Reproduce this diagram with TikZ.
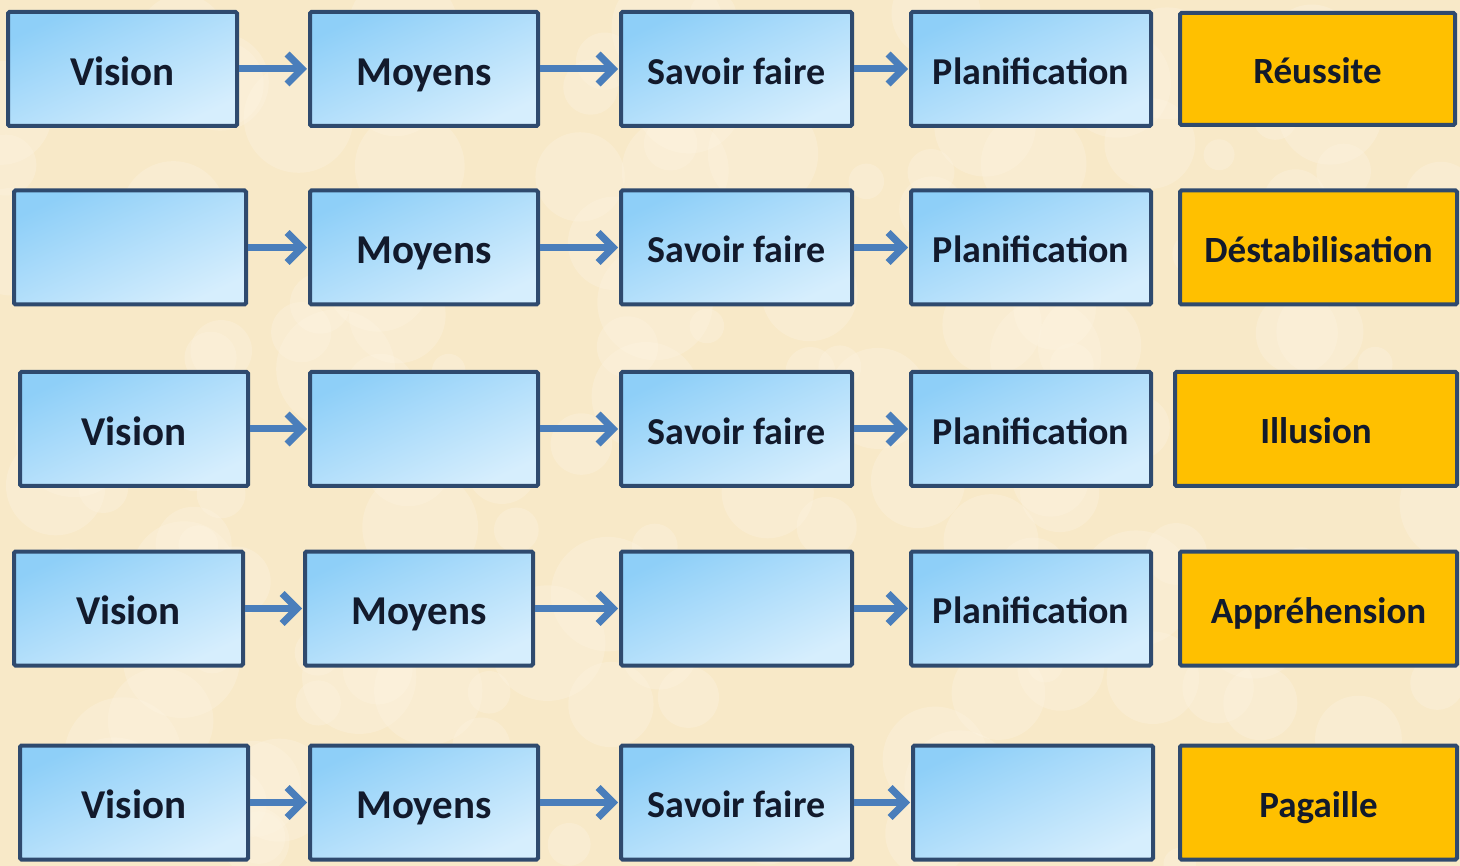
\documentclass[tikz,border=0pt]{standalone}
\usepackage{fontspec}
\setmainfont{Carlito}
\usetikzlibrary{arrows.meta}
\definecolor{bgc}{HTML}{F8E9C8}
\definecolor{bgl}{HTML}{FDF4E2}
\definecolor{bluetop}{HTML}{8ECFF8}
\definecolor{bluebot}{HTML}{D6EEFD}
\definecolor{edgec}{HTML}{2F4A6E}
\definecolor{orangec}{HTML}{FFC000}
\definecolor{arrowc}{HTML}{4A7EBB}
\definecolor{textc}{HTML}{121A2C}
\tikzset{
  bx/.style={draw=edgec, line width=4pt, rounded corners=1.5pt, inner sep=0pt,
    shading=axis, top color=bluetop, bottom color=bluebot, shading angle=25,
    minimum height=114pt, text=textc, text height=30.5pt, text depth=0pt,
    font=\bfseries\fontsize{38}{40}\selectfont},
  big/.style={font=\bfseries\fontsize{41}{44}\selectfont, text height=32.4pt},
  res/.style={draw=edgec, line width=4pt, rounded corners=1.5pt, inner sep=0pt,
    fill=orangec, minimum height=114pt, text=textc, text height=30pt, text depth=0pt,
    font=\bfseries\fontsize{37}{40}\selectfont},
  arr/.style={draw=arrowc, line width=7pt,
    -{Straight Barb[length=15pt,width=30pt,line width=7pt]}, shorten >=1pt},
}
\begin{document}
\begin{tikzpicture}[x=1pt,y=-1pt]
\useasboundingbox (0,0) rectangle (1460,866);
\begin{scope}
\clip (0,0) rectangle (1460,866);
\fill[bgc] (0,0) rectangle (1460,866);
\pgfmathsetseed{7}
\foreach \i in {1,...,160}{
  \pgfmathsetmacro{\xx}{rnd*1460}
  \pgfmathsetmacro{\yy}{rnd*866}
  \pgfmathsetmacro{\rr}{15+rnd*45}
  \fill[bgl, opacity=0.35] (\xx,\yy) circle[radius=\rr];
}
\end{scope}
% Row 1
\node[bx,big,minimum width=229pt] (v1) at (122.5,69) {Vision};
\node[bx,big,minimum width=228pt] (m1) at (424,69) {Moyens};
\node[bx,minimum width=231pt] (s1) at (736.5,69) {Savoir faire};
\node[bx,minimum width=240pt] (p1) at (1031,69) {Planification};
\node[res,minimum width=275pt,minimum height=112pt] (r1) at (1317.5,69) {Réussite};
% Row 2
\node[bx,minimum width=232pt] (e2) at (130,247.5) {};
\node[bx,big,minimum width=228pt] (m2) at (424,247.5) {Moyens};
\node[bx,minimum width=231pt] (s2) at (736.5,247.5) {Savoir faire};
\node[bx,minimum width=240pt] (p2) at (1031,247.5) {Planification};
\node[res,minimum width=277pt] (r2) at (1318.5,247.5) {Déstabilisation};
% Row 3
\node[bx,big,minimum width=228pt] (v3) at (134,429) {Vision};
\node[bx,minimum width=228pt] (e3) at (424,429) {};
\node[bx,minimum width=231pt] (s3) at (736.5,429) {Savoir faire};
\node[bx,minimum width=240pt] (p3) at (1031,429) {Planification};
\node[res,minimum width=282pt] (r3) at (1316,429) {Illusion};
% Row 4
\node[bx,big,minimum width=229pt] (v4) at (128.5,608.5) {Vision};
\node[bx,big,minimum width=228pt] (m4) at (419,608.5) {Moyens};
\node[bx,minimum width=231pt] (e4) at (736.5,608.5) {};
\node[bx,minimum width=240pt] (p4) at (1031,608.5) {Planification};
\node[res,minimum width=277pt] (r4) at (1318.5,608.5) {Appréhension};
% Row 5
\node[bx,big,minimum width=228pt] (v5) at (134,802.5) {Vision};
\node[bx,big,minimum width=228pt] (m5) at (424,802.5) {Moyens};
\node[bx,minimum width=231pt] (s5) at (736.5,802.5) {Savoir faire};
\node[bx,minimum width=240pt] (e5) at (1033,802.5) {};
\node[res,minimum width=277pt] (r5) at (1318.5,802.5) {Pagaille};
% Arrows
\foreach \a/\b in {v1/m1,m1/s1,s1/p1,e2/m2,m2/s2,s2/p2,v3/e3,e3/s3,s3/p3,v4/m4,m4/e4,e4/p4,v5/m5,m5/s5,s5/e5}
  \draw[arr] (\a.east) -- (\b.west);
\end{tikzpicture}
\end{document}
